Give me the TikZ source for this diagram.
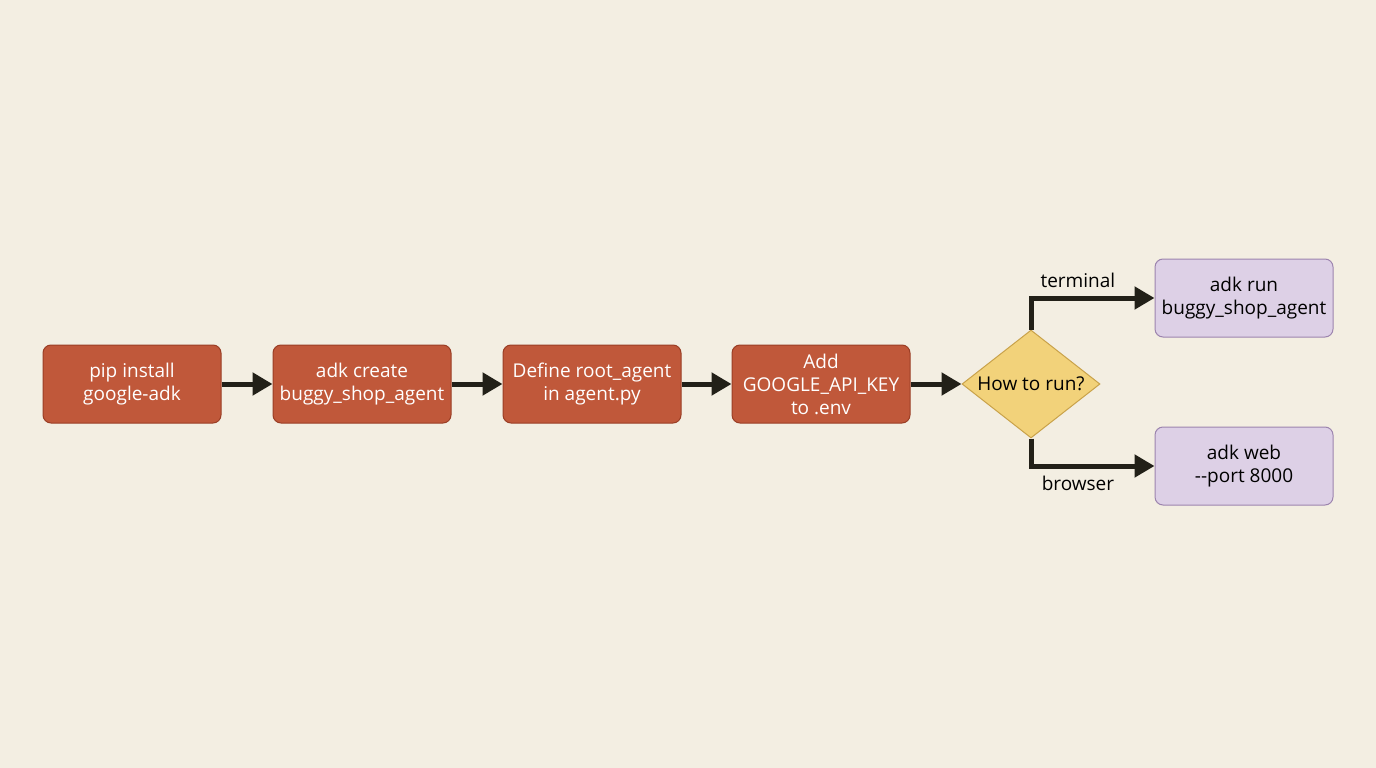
\documentclass[tikz,border=0pt]{standalone}
\usepackage{fontspec}
\setmainfont{Open Sans}
\usetikzlibrary{positioning}
\usetikzlibrary{shapes.geometric}
\usetikzlibrary{arrows.meta}
\definecolor{bgcol}{HTML}{F3EEE2}
\definecolor{stepfill}{HTML}{C0583A}
\definecolor{stepline}{HTML}{9A3E25}
\definecolor{askfill}{HTML}{F2D27A}
\definecolor{askline}{HTML}{C9A24A}
\definecolor{runfill}{HTML}{DDD0E6}
\definecolor{runline}{HTML}{9C84AE}
\definecolor{arrcol}{HTML}{222018}
\tikzset{
  stepbox/.style={draw=stepline, fill=stepfill, rounded corners=8pt, minimum width=178pt, minimum height=78pt, text=white, align=center, font=\fontsize{19}{23}\selectfont, line width=1pt},
  runbox/.style={stepbox, draw=runline, fill=runfill, text=black},
  flow/.style={draw=arrcol, line width=5pt, -{Triangle[length=20pt,width=22pt]}}
}
\begin{document}
\begin{tikzpicture}[x=1pt, y=-1pt]
        \fill[bgcol] (0,0) rectangle (1376,768);
        \useasboundingbox (0,0) rectangle (1376,768);
        % setup steps
        \node [stepbox] (pip) at (132,384) {pip install\\google-adk};
        \node [stepbox] (create) at (362,384) {adk create\\buggy\_shop\_agent};
        \node [stepbox] (define) at (592,384) {Define root\_agent\\in agent.py};
        \node [stepbox] (key) at (821,384) {Add\\GOOGLE\_API\_KEY\\to .env};
        \draw[flow] (pip) -- (create);
        \draw[flow] (create) -- (define);
        \draw[flow] (define) -- (key);
        % decision
        \node [draw=askline, fill=askfill, diamond, aspect=1.28, minimum width=138pt, minimum height=108pt, inner sep=0, line width=1pt, font=\fontsize{19}{23}\selectfont] (how) at (1031,384) {How to run?};
        \draw[flow] (key) -- (how);
        % run modes
        \node [runbox] (cli) at (1244,298) {adk run\\buggy\_shop\_agent};
        \node [runbox] (web) at (1244,466) {adk web\\-{}-port 8000};
        \draw[flow] (how.north) |- node [pos=0.69, above=4pt, font=\fontsize{19}{23}\selectfont] {terminal} (cli);
        \draw[flow] (how.south) |- node [pos=0.69, below=4pt, font=\fontsize{19}{23}\selectfont] {browser} (web);
    \end{tikzpicture}
\end{document}
